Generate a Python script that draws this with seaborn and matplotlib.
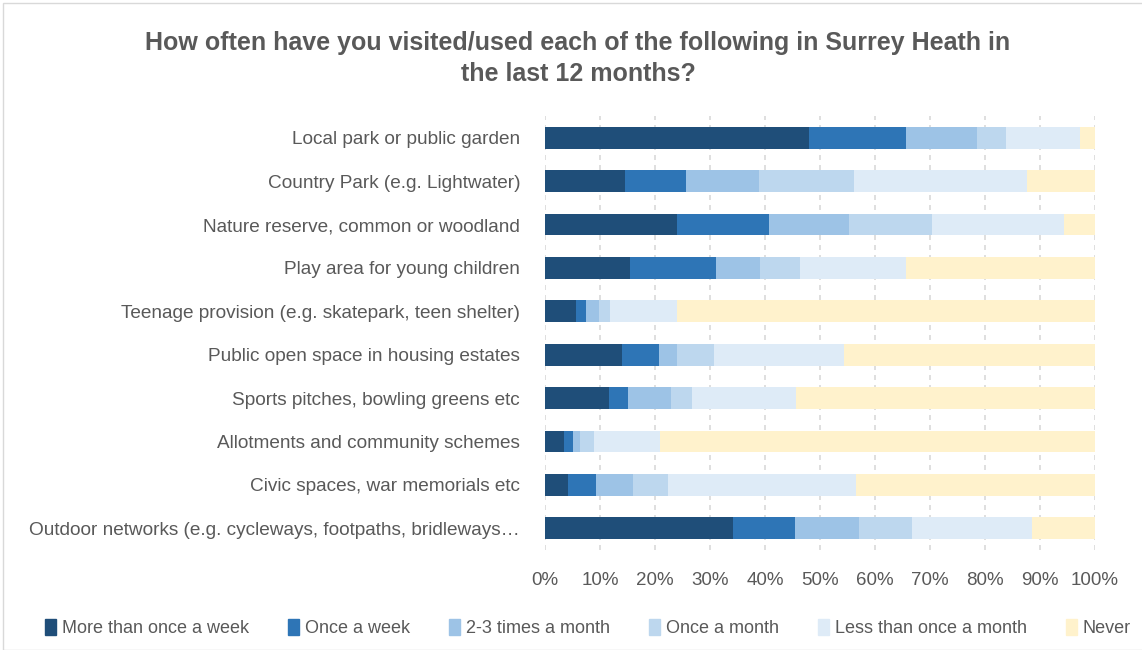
import numpy as np
import pandas as pd
import matplotlib
matplotlib.use("Agg")
import matplotlib.pyplot as plt
import matplotlib.patches as mpatches
import seaborn as sns

# data (percent of respondents)
places = ["Local park or public garden",
          "Country Park (e.g. Lightwater)",
          "Nature reserve, common or woodland",
          "Play area for young children",
          "Teenage provision (e.g. skatepark, teen shelter)",
          "Public open space in housing estates",
          "Sports pitches, bowling greens etc",
          "Allotments and community schemes",
          "Civic spaces, war memorials etc",
          "Outdoor networks (e.g. cycleways, footpaths, bridleways\u2026"]
freqs = ["More than once a week", "Once a week", "2-3 times a month",
         "Once a month", "Less than once a month", "Never"]
more_than_weekly = [48.0, 14.5, 24.0, 15.5, 5.7, 14.0, 11.6, 3.4, 4.2, 34.2]
weekly           = [17.7, 11.2, 16.7, 15.6, 1.8, 6.7, 3.5, 1.7, 5.1, 11.3]
two_three_month  = [12.9, 13.2, 14.6, 8.0, 2.3, 3.3, 7.8, 1.3, 6.7, 11.6]
monthly          = [5.2, 17.3, 15.1, 7.3, 2.0, 6.7, 3.9, 2.5, 6.3, 9.6]
less_monthly     = [13.5, 31.5, 23.9, 19.3, 12.2, 23.6, 18.9, 12.0, 34.3, 21.9]
never            = [2.7, 12.3, 5.7, 34.3, 76.0, 45.7, 54.3, 79.1, 43.4, 11.4]
colors = ["#1F4E79", "#2E75B6", "#9DC3E6", "#BDD7EE", "#DEEBF7", "#FFF2CC"]

df = pd.DataFrame({"place": places})
series = [more_than_weekly, weekly, two_three_month, monthly, less_monthly, never]
for name, vals in zip(freqs, series):
    df[name] = vals
cum = df[freqs].cumsum(axis=1)

sns.set_style("white")
plt.rcParams['font.family'] = ['Liberation Sans', 'DejaVu Sans']
txt = "#595959"

fig = plt.figure(figsize=(11.42, 6.5), dpi=100)
ax = fig.add_axes([545/1142, 1-550/650, 550/1142, 434/650])

# draw cumulative totals from the right, so each segment sits on top of the next
for name, col in reversed(list(zip(freqs, colors))):
    sns.barplot(x=cum[name], y=df["place"], color=col, orient="h",
                width=0.5, saturation=1, linewidth=0, ax=ax, zorder=3)

ax.set_xlim(0, 100)
ax.set_xticks(np.arange(0, 101, 10))
ax.set_xticklabels([f"{v}%" for v in range(0, 101, 10)])
ax.xaxis.grid(True, color="#D9D9D9", linestyle=(0, (3, 3)), linewidth=1.2, zorder=0)
ax.set_axisbelow(True)
ax.set_xlabel("")
ax.set_ylabel("")
for s in ax.spines.values():
    s.set_visible(False)
ax.tick_params(axis="both", length=0, colors=txt)
ax.tick_params(axis="x", pad=16, labelsize=13.5)
ax.tick_params(axis="y", pad=18, labelsize=13.7)

fig.suptitle("How often have you visited/used each of the following in Surrey Heath in\nthe last 12 months?",
             x=578/1142, y=1-31/650, fontsize=18, fontweight="bold", color=txt,
             linespacing=1.35, va="top")

handles = [mpatches.Patch(color=c, label=f) for f, c in zip(freqs, colors)]
fig.legend(handles=handles, loc="center", bbox_to_anchor=(588/1142, 1-628/650),
           ncol=6, frameon=False, fontsize=13, handlelength=0.6, handleheight=1.0,
           handletextpad=0.3, columnspacing=2.2, labelcolor=txt)

fig.patches.append(mpatches.Rectangle((3/1142, 0), 1.2, 1-3/650, transform=fig.transFigure,
                                      fill=False, edgecolor="#D9D9D9", linewidth=1))

fig.savefig("out.png", dpi=100)
